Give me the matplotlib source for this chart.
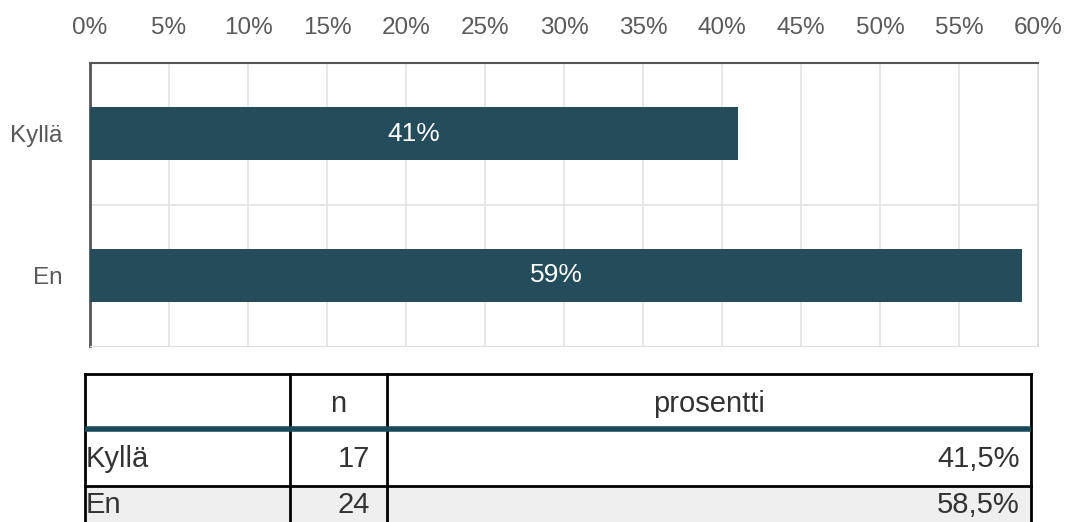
import matplotlib.pyplot as plt
from matplotlib.patches import Rectangle

plt.rcParams['font.family'] = ['Liberation Sans', 'DejaVu Sans']

categories = ['Kyllä', 'En']
counts = [17, 24]
percents = [41.5, 58.5]
bar_values = [41, 59]
xticks = list(range(0, 65, 5))
header = ['', 'n', 'prosentti']

bar_color = '#244c5a'
W, H = 1068, 522

fig = plt.figure(figsize=(W / 100, H / 100), dpi=100)

# chart area in pixel coords
x0, x1, y0, y1 = 90, 1038, 63, 346
ax = fig.add_axes([x0 / W, 1 - y1 / H, (x1 - x0) / W, (y1 - y0) / H])
pos = list(range(len(categories)))
ax.barh(pos, bar_values, height=0.375, color=bar_color, zorder=3)
for p, v in zip(pos, bar_values):
    ax.text(v / 2, p, f'{v}%', color='white', ha='center', va='center', fontsize=19, zorder=4)

ax.set_xlim(0, 60)
ax.set_ylim(len(categories) - 0.5, -0.5)
ax.set_xticks(xticks)
ax.set_xticklabels([f'{t}%' for t in xticks])
ax.xaxis.tick_top()
ax.tick_params(axis='x', length=0, pad=17, labelsize=17.5, labelcolor='#5a5a5a')
ax.set_yticks(pos)
ax.set_yticklabels(categories, va='center_baseline')
ax.tick_params(axis='y', length=0, pad=20, labelsize=17.5, labelcolor='#5a5a5a')
ax.set_yticks([0.5], minor=True)
ax.tick_params(axis='y', which='minor', length=0)
ax.grid(axis='x', color='#e3e3e3', linewidth=1.2, zorder=0)
ax.grid(axis='y', which='minor', color='#e3e3e3', linewidth=1.2, zorder=0)
ax.spines['left'].set_color('#555555')
ax.spines['left'].set_linewidth(2)
ax.spines['top'].set_color('#555555')
ax.spines['top'].set_linewidth(1.5)
ax.spines['right'].set_color('#dddddd')
ax.spines['bottom'].set_color('#dddddd')

# table drawn in pixel coords
tx = fig.add_axes([0, 0, 1, 1])
tx.set_xlim(0, W)
tx.set_ylim(H, 0)
tx.axis('off')

cols = [85, 290, 387, 1031]
rows = [374, 429, 486, 545]
tx.add_patch(Rectangle((cols[0], rows[2]), cols[-1] - cols[0], rows[3] - rows[2],
                       facecolor='#efefef', edgecolor='none'))
lw = 2
for c in cols:
    tx.plot([c, c], [rows[0], rows[-1]], color='black', lw=lw)
tx.plot([cols[0], cols[-1]], [rows[0], rows[0]], color='black', lw=lw)
tx.plot([cols[0], cols[-1]], [rows[2], rows[2]], color='black', lw=lw)
tx.plot([cols[0], cols[-1]], [rows[1], rows[1]], color='#1a4a5a', lw=4, solid_capstyle='butt')

fs = 21
tc = '#333333'
hy = rows[1] - 17
tx.text((cols[1] + cols[2]) / 2, hy, header[1], ha='center', va='baseline', fontsize=fs, color=tc)
tx.text((cols[2] + cols[3]) / 2, hy, header[2], ha='center', va='baseline', fontsize=fs, color=tc)
row_base = [rows[2] - 19, rows[2] + 27]
for cat, n, pc, y in zip(categories, counts, percents, row_base):
    tx.text(cols[0] + 1, y, cat, ha='left', va='baseline', fontsize=fs, color=tc)
    tx.text(cols[2] - 17, y, str(n), ha='right', va='baseline', fontsize=fs, color=tc)
    tx.text(cols[3] - 11, y, f'{pc:.1f}%'.replace('.', ','), ha='right', va='baseline', fontsize=fs, color=tc)

fig.savefig('out.png', dpi=100)
